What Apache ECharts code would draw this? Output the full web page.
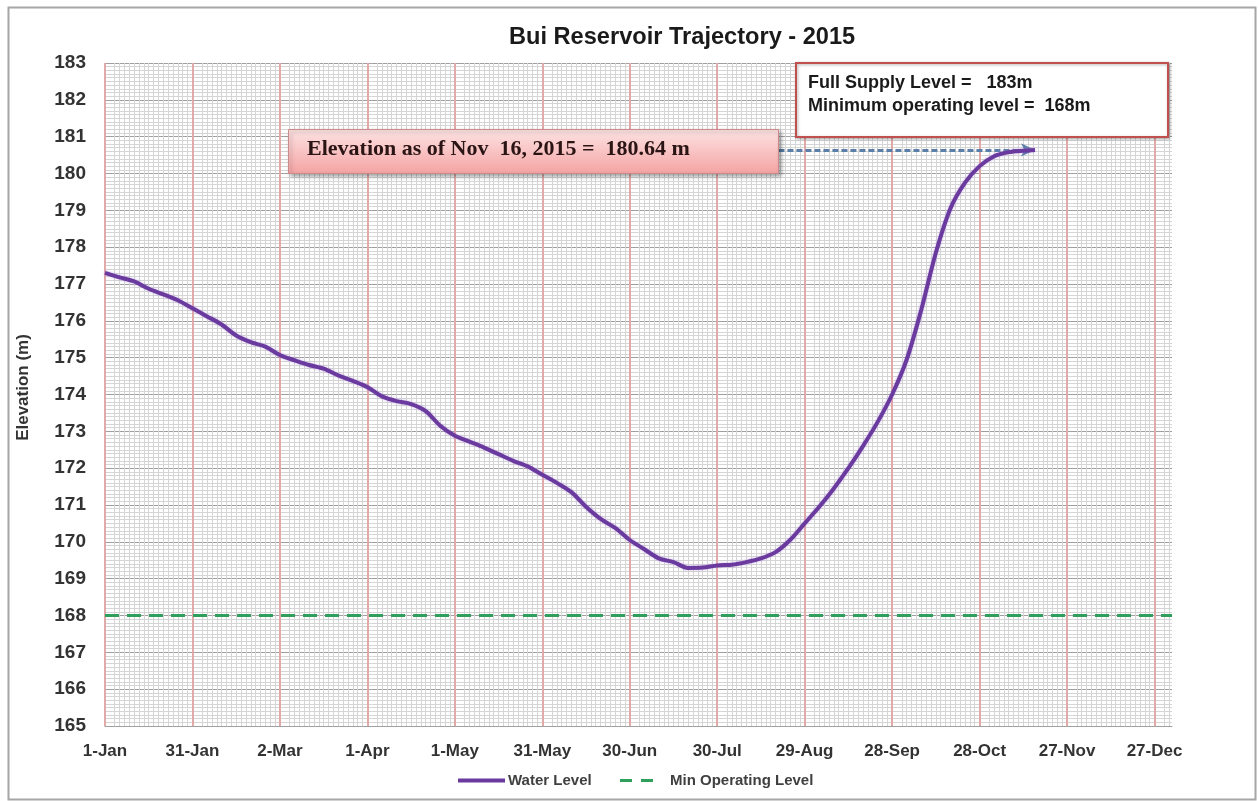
<!DOCTYPE html>
<html>
<head>
<meta charset="utf-8">
<script src="https://cdn.jsdelivr.net/npm/echarts@6/dist/echarts.min.js"></script>
<style>
html,body{margin:0;padding:0;background:#ffffff;}
#chart{width:1259px;height:801px;}
</style>
</head>
<body>
<div id="chart"></div>
<script>
// ---- data ----
const tickLabels = ['1-Jan','31-Jan','2-Mar','1-Apr','1-May','31-May','30-Jun','30-Jul','29-Aug','28-Sep','28-Oct','27-Nov','27-Dec'];
const days = [0,5,10,15,20,25,30,35,40,45,50,55,60,65,70,75,80,85,90,95,100,105,110,115,120,125,130,135,140,145,150,155,160,165,170,175,180,185,190,195,200,205,210,215,220,225,230,235,240,245,250,255,260,265,270,275,280,285,290,295,300,305,310,315,319];
const waterLevel = [177.30,177.18,177.07,176.87,176.72,176.56,176.34,176.12,175.90,175.60,175.42,175.30,175.07,174.93,174.80,174.70,174.52,174.37,174.20,173.95,173.82,173.74,173.55,173.15,172.88,172.72,172.56,172.38,172.20,172.05,171.82,171.60,171.35,170.95,170.62,170.38,170.05,169.80,169.55,169.45,169.29,169.30,169.36,169.38,169.45,169.55,169.72,170.05,170.50,170.95,171.45,172.00,172.60,173.25,174.00,174.95,176.30,177.85,179.05,179.75,180.20,180.47,180.58,180.62,180.64];
const minOperatingLevel = 168;
const xMin = 0, xMax = 366;
const minorPerMajor = 18;          // minor vertical grid divisions per 30-day band
const latestDay = 319, latestLevel = 180.64;
const arrowStartDay = 231;
const titleText = 'Bui Reservoir Trajectory - 2015';
const noteText = 'Elevation as of Nov  16, 2015 =  180.64 m';
const infoLines = ['Full Supply Level =   183m', 'Minimum operating level =  168m'];

const waterData = days.map((d, i) => [d, waterLevel[i]]);
const minData = [[xMin, minOperatingLevel], [xMax, minOperatingLevel]];

const chart = echarts.init(document.getElementById('chart'), null, {renderer: 'canvas'});
const F = '"Liberation Sans", Arial, sans-serif';
// minor vertical grid drawn on a helper axis counted in 1/3-day units (integer ticks)
const minorColors = ['rgba(0,0,0,0)'];
for (let i = 1; i < minorPerMajor; i++) minorColors.push('#d5d5d5');

const legendText = {fontFamily: F, fontSize: 15, fontWeight: 'bold', color: '#404040'};

chart.setOption({
  backgroundColor: '#ffffff',
  animation: false,
  title: {
    text: titleText, left: 504, top: 20,
    textStyle: {fontFamily: F, fontSize: 23.6, fontWeight: 'bold', color: '#1a1a1a'}
  },
  grid: {left: 105, top: 63, right: 87, bottom: 75, containLabel: false},
  legend: [
    {
      left: 458, bottom: 13, padding: 0, itemWidth: 47, itemHeight: 4, itemGap: 0,
      textStyle: Object.assign({padding: [0, 0, 0, -2]}, legendText),
      data: [{name: 'Water Level', icon: 'rect'}]
    },
    {
      left: 620, bottom: 13, padding: 0, itemWidth: 33, itemHeight: 3, itemGap: 0,
      textStyle: Object.assign({padding: [0, 0, 0, 12]}, legendText),
      data: [{name: 'Min Operating Level', icon: 'path://M0,0h12v3h-12z M21,0h12v3h-12z'}]
    }
  ],
  xAxis: [
    {
      type: 'value', min: xMin, max: xMax, interval: 30, z: 2,
      axisLine: {show: true, lineStyle: {color: '#a0a0a0', width: 1}},
      axisTick: {show: false},
      axisLabel: {
        margin: 17, fontFamily: F, fontSize: 17, fontWeight: 'bold', color: '#333333',
        showMaxLabel: false,
        formatter: v => (v % 30 === 0 && tickLabels[v / 30] !== undefined) ? tickLabels[v / 30] : ''
      },
      splitLine: {show: true, showMinLine: true, showMaxLine: false, lineStyle: {color: '#e2a9a9', width: 2}}
    },
    {
      type: 'value', min: xMin * 3, max: xMax * 3, interval: 90 / minorPerMajor, z: 0,
      axisLine: {show: false}, axisTick: {show: false}, axisLabel: {show: false},
      splitLine: {show: true, showMinLine: false, showMaxLine: false, lineStyle: {color: minorColors, width: 1}}
    }
  ],
  yAxis: {
    type: 'value', min: 165, max: 183, interval: 1,
    axisLine: {show: false}, axisTick: {show: false},
    axisLabel: {margin: 19, fontFamily: F, fontSize: 19, fontWeight: 'bold', color: '#333333'},
    name: 'Elevation (m)', nameLocation: 'middle', nameGap: 73, nameRotate: 90,
    nameTextStyle: {fontFamily: F, fontSize: 17, fontWeight: 'bold', color: '#333333', padding: [0, 0, 0, 14]},
    splitLine: {show: true, lineStyle: {color: '#9f9f9f', width: 1}},
    minorTick: {show: false, splitNumber: 10},
    minorSplitLine: {show: true, lineStyle: {color: '#d5d5d5', width: 1}}
  },
  series: [
    {
      name: 'Water Level', type: 'line', xAxisIndex: 0, data: waterData,
      smooth: 0.3, showSymbol: false, symbol: 'none',
      lineStyle: {color: '#6a3a9e', width: 4, shadowColor: 'rgba(160,120,220,0.5)', shadowBlur: 3},
      itemStyle: {color: '#6a3a9e'},
      z: 5,
      markLine: {
        silent: true, symbol: ['none', 'arrow'], symbolSize: [10, 14],
        label: {show: false},
        lineStyle: {color: '#5b7fa8', width: 3, type: [6, 3]},
        data: [[{coord: [arrowStartDay, latestLevel]}, {coord: [latestDay, latestLevel]}]]
      }
    },
    {
      name: 'Min Operating Level', type: 'line', xAxisIndex: 0, data: minData,
      showSymbol: false, symbol: 'none',
      lineStyle: {color: '#2fa05c', width: 3, type: [14, 8]},
      itemStyle: {color: '#2fa05c'},
      z: 4
    }
  ],
  graphic: [
    {
      type: 'rect', left: 6, top: 5, silent: true, z: 100,
      shape: {width: 1247, height: 792},
      style: {fill: 'none', stroke: '#a6a6a6', lineWidth: 2}
    },
    {
      type: 'rect', left: 288, top: 129, z: 100,
      shape: {width: 490, height: 44},
      style: {
        fill: new echarts.graphic.LinearGradient(0, 0, 0, 1, [
          {offset: 0, color: '#fde3e3'}, {offset: 1, color: '#f5a3a3'}
        ]),
        stroke: '#cc8a8a', lineWidth: 1,
        shadowBlur: 4, shadowOffsetX: 2, shadowOffsetY: 2, shadowColor: 'rgba(0,0,0,0.35)'
      }
    },
    {
      type: 'text', left: 307, top: 138, z: 101,
      style: {text: noteText, font: 'bold 22px "Liberation Serif", serif', fill: '#2a1414'}
    },
    {
      type: 'rect', left: 795, top: 62, z: 100,
      shape: {width: 372, height: 74},
      style: {
        fill: '#ffffff', stroke: '#c0504d', lineWidth: 2,
        shadowBlur: 3, shadowOffsetX: 1, shadowOffsetY: 1, shadowColor: 'rgba(0,0,0,0.3)'
      }
    },
    {
      type: 'text', left: 808, top: 74, z: 101,
      style: {text: infoLines[0], font: 'bold 18px ' + F, fill: '#1a1a1a'}
    },
    {
      type: 'text', left: 808, top: 97, z: 101,
      style: {text: infoLines[1], font: 'bold 18px ' + F, fill: '#1a1a1a'}
    }
  ]
});
</script>
</body>
</html>
